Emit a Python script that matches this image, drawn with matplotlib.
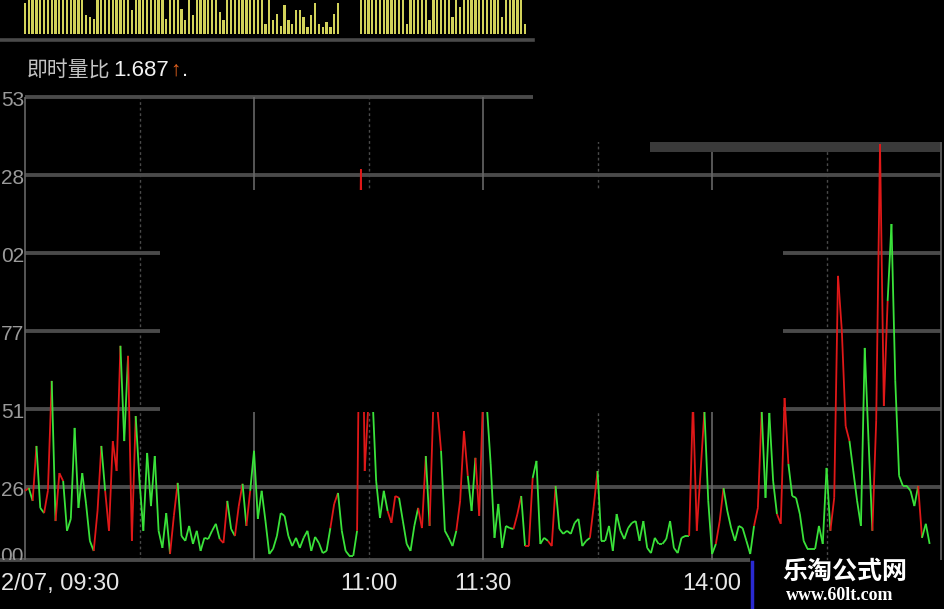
import matplotlib
matplotlib.use("Agg")
import matplotlib.pyplot as plt
import numpy as np
from matplotlib.patches import Rectangle
from matplotlib.collections import LineCollection
from matplotlib.lines import Line2D

W, H = 945, 609

# grid levels of the instant volume ratio (only the last two digits show on screen)
y_ticks = [2.533, 2.2775, 2.022, 1.7665, 1.511, 1.2555, 1.000]
y_tick_labels = ["53", "28", "02", "77", "51", "26", "00"]
# minutes after 09:30
time_ticks = [0, 90, 120, 180]
time_labels = ["2/07, 09:30", "11:00", "11:30", "14:00"]
dashed_minutes = [30, 90, 150, 210]
solid_minutes = [0, 60, 120, 180, 240]

# 即时量比, one value per minute
ratio = [
    1.243, 1.252, 1.210, 1.390, 1.187, 1.170, 1.243, 1.603, 1.144, 1.301,
    1.275, 1.112, 1.151, 1.449, 1.187, 1.301, 1.200, 1.079, 1.046, 1.177,
    1.390, 1.243, 1.112, 1.406, 1.308, 1.718, 1.406, 1.685, 1.079, 1.488,
    1.275, 1.112, 1.367, 1.193, 1.357, 1.112, 1.056, 1.170, 1.036, 1.161,
    1.269, 1.095, 1.079, 1.128, 1.069, 1.112, 1.046, 1.089, 1.085, 1.112,
    1.135, 1.085, 1.072, 1.210, 1.118, 1.095, 1.193, 1.266, 1.128, 1.243,
    1.374, 1.151, 1.243, 1.144, 1.036, 1.053, 1.095, 1.170, 1.161, 1.095,
    1.062, 1.089, 1.056, 1.089, 1.112, 1.046, 1.092, 1.072, 1.039, 1.046,
    1.121, 1.200, 1.236, 1.112, 1.046, 1.030, 1.030, 1.112, 2.297, 1.308,
    1.537, 1.564, 1.275, 1.154, 1.243, 1.177, 1.138, 1.226, 1.220, 1.144,
    1.069, 1.046, 1.128, 1.187, 1.121, 1.357, 1.128, 1.537, 1.521, 1.374,
    1.112, 1.089, 1.062, 1.112, 1.210, 1.439, 1.292, 1.177, 1.351, 1.161,
    1.554, 1.521, 1.331, 1.089, 1.200, 1.056, 1.128, 1.121, 1.118, 1.167,
    1.226, 1.062, 1.062, 1.285, 1.341, 1.069, 1.089, 1.079, 1.062, 1.259,
    1.118, 1.102, 1.112, 1.102, 1.138, 1.151, 1.062, 1.079, 1.089, 1.193,
    1.308, 1.079, 1.079, 1.128, 1.046, 1.167, 1.112, 1.085, 1.121, 1.138,
    1.144, 1.079, 1.144, 1.056, 1.039, 1.089, 1.069, 1.069, 1.085, 1.144,
    1.056, 1.039, 1.089, 1.095, 1.095, 1.537, 1.112, 1.308, 1.505, 1.210,
    1.036, 1.069, 1.144, 1.252, 1.177, 1.121, 1.079, 1.128, 1.121, 1.079,
    1.036, 1.128, 1.187, 1.505, 1.220, 1.498, 1.275, 1.167, 1.135, 1.547,
    1.331, 1.226, 1.220, 1.167, 1.079, 1.053, 1.053, 1.053, 1.128, 1.069,
    1.318, 1.112, 1.220, 1.947, 1.767, 1.455, 1.406, 1.308, 1.210, 1.128,
    1.711, 1.406, 1.112, 1.472, 2.379, 1.521, 1.865, 2.117, 1.603, 1.292,
    1.259, 1.259, 1.243, 1.193, 1.259, 1.089, 1.135, 1.069,
]

# segments (start index) drawn in red, the rest are green
red_segments = [0, 2, 5, 6, 8, 9, 18, 19, 21, 22, 23, 24, 27, 28, 38, 39,
                51, 52, 55, 56, 58, 80, 81, 87, 88, 89, 90, 95, 96, 97,
                103, 104, 106, 107, 108, 113, 114, 115, 118, 119, 120,
                128, 129, 131, 132, 137, 138, 148, 149, 174, 175, 176, 177,
                181, 182, 191, 192, 197, 198, 199, 211, 212, 213, 214, 215,
                222, 223, 224, 225, 234]

# volume bars in the strip on top (relative height, 1 = cut by the top edge)
volume = [
    0.9, 1, 1, 1, 1, 1, 1, 1, 1, 1,
    1, 1, 1, 1, 1, 1, 0.55, 0.5, 0.45, 1,
    1, 1, 1, 1, 1, 1, 1, 1, 0.7, 1,
    1, 1, 1, 1, 1, 1, 1, 0.45, 1, 1,
    1, 0.75, 0.4, 1, 0.55, 1, 1, 1, 1, 1,
    1, 0.65, 0.4, 1, 1, 1, 1, 1, 1, 1,
    1, 1, 1, 0.3, 1, 0.4, 0.6, 0.25, 0.85, 0.4,
    0.3, 0.7, 0.7, 0.5, 0.2, 0.55, 0.9, 0.3, 0.2, 0.35,
    0.2, 0.6, 0.9, 0, 0, 0, 0, 0, 1, 1,
    1, 1, 1, 1, 1, 1, 1, 1, 1, 1,
    0.3, 1, 1, 1, 1, 1, 0.4, 1, 1, 1,
    1, 1, 0.5, 1, 0.8, 1, 1, 1, 1, 1,
    1, 1, 1, 1, 1, 0.5, 1, 1, 1, 1,
    1, 0.3, 0,
]

GRID = "#4a4a4a"
VLINE = "#666666"
RED = "#e01818"
GREEN = "#3ae23a"
CJK = ["Noto Sans CJK SC", "DejaVu Sans"]
NUM = ["Liberation Sans", "DejaVu Sans"]

# screen geometry of the screenshot
X0 = 25
PX_PER_MIN = 3.817
PX_PER_UNIT = 78 / 0.2555


def mx(px):
    return (px - X0) / PX_PER_MIN


def vy(py):
    return y_ticks[0] - (py - 97) / PX_PER_UNIT


fig = plt.figure(figsize=(W / 100, H / 100), dpi=100, facecolor="black")
ax = fig.add_axes([0, (H - 560) / H, 1, (560 - 97) / H])
ax.set_xlim(mx(0), mx(W))
ax.set_ylim(vy(560), vy(97))
ax.axis("off")

# grid
for v in y_ticks[1:-1]:
    ax.hlines(v, 0, 240, color=GRID, lw=2.8, zorder=1, clip_on=False)
ax.hlines(y_ticks[0], 0, mx(533), color=GRID, lw=2.8, zorder=1, clip_on=False)
ax.hlines(vy(560), mx(0), mx(750), color=GRID, lw=2.8, zorder=1, clip_on=False)
for m in dashed_minutes:
    ax.vlines(m, vy(560), y_ticks[0], color=GRID, lw=1.0,
              linestyles=(0, (2, 2)), zorder=1)
for m in solid_minutes:
    ax.vlines(m, vy(560), y_ticks[0], color=VLINE, lw=1.2, zorder=1)

# the ratio line, coloured per segment
x = np.arange(len(ratio))
pts = np.column_stack([x, ratio])
segs = np.stack([pts[:-1], pts[1:]], axis=1)
colors = [RED if i in red_segments else GREEN for i in range(len(segs))]
ax.add_collection(LineCollection(segs, colors=colors, linewidths=1.3, zorder=3))

# black areas covering parts of the chart in the screenshot
ax.add_patch(Rectangle((mx(160), vy(412)), mx(783) - mx(160), vy(190) - vy(412),
                       fc="black", ec="none", zorder=5))
ax.add_patch(Rectangle((mx(533), vy(142)), mx(W) - mx(533), vy(80) - vy(142),
                       fc="black", ec="none", zorder=5, clip_on=False))
ax.add_patch(Rectangle((mx(650), vy(152)), mx(940) - mx(650), vy(142) - vy(152),
                       fc="#3a3a3a", ec="none", zorder=2))

# y labels; the lowest one is cut by the time bar as on screen
for v, lab in zip(y_ticks, y_tick_labels):
    shift = 4 if lab != "00" else -8
    ax.text(mx(24), v - shift / PX_PER_UNIT, lab, ha="right", va="center",
            color="#9a9a9a", fontsize=15, family=NUM,
            clip_on=(lab == "00"), zorder=4)

# time labels
for m, lab in zip(time_ticks, time_labels):
    if m == 0:
        ax.text(mx(1), vy(584), lab, ha="left", va="center", color="#e6e6e6",
                fontsize=17, family=NUM, clip_on=False)
    else:
        ax.text(m, vy(584), lab, ha="center", va="center", color="#e6e6e6",
                fontsize=17, family=NUM, clip_on=False)

# volume strip on top
ax_vol = fig.add_axes([0, 1 - 34 / H, 1, 34 / H])
ax_vol.set_xlim(mx(0), mx(W))
ax_vol.set_ylim(0, 1)
ax_vol.axis("off")
ax_vol.bar(np.arange(len(volume)), volume, width=0.6, color="#d2d25a", lw=0)
fig.add_artist(Line2D([0, 533 / W], [1 - 40 / H, 1 - 40 / H], color=GRID, lw=2.6))

# indicator title, pieces placed one after the other
renderer = fig.canvas.get_renderer()
title_parts = [("即时量比", CJK, 15, "#c4c4c4", 27),
               ("1.687", NUM, 16, "#f2f2f2", 3),
               ("↑", NUM, 15, "#e0601e", 1),
               (".", NUM, 16, "#f2f2f2", 1)]
xpos = 0
for txt, fam, size, col, gap in title_parts:
    t = fig.text((xpos + gap) / W, 1 - 70 / H, txt, family=fam, fontsize=size,
                 color=col, va="center")
    xpos = t.get_window_extent(renderer).x1

# cursor mark and watermark
fig.add_artist(Line2D([752 / W, 752 / W], [0, 1 - 562 / H], color="#2a2ad0", lw=2.5))
fig.text(845 / W, 1 - 572 / H, "乐淘公式网", family=CJK, fontsize=18,
         fontweight="bold", color="white", ha="center", va="center")
fig.text(840 / W, 1 - 596 / H, "www.60lt.com", family=["Liberation Serif", "DejaVu Serif"],
         fontsize=13, fontweight="bold", color="white", ha="center", va="center")

fig.savefig("out.png", dpi=100, facecolor="black")
